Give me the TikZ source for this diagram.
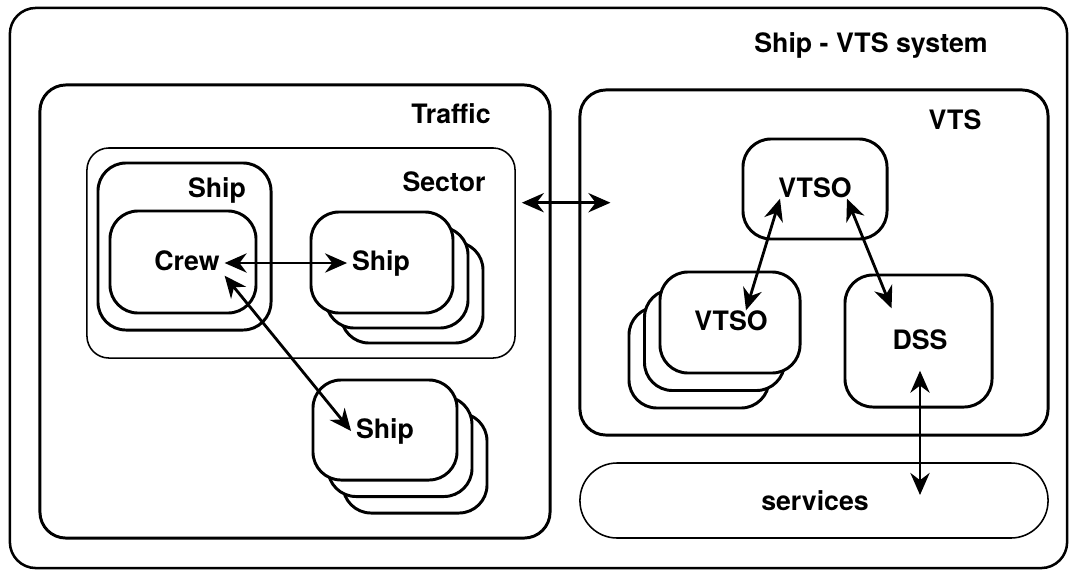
\documentclass[tikz,border=0pt]{standalone}
\usepackage{fontspec}
\setmainfont{TeX Gyre Heros}
\usetikzlibrary{arrows.meta}
\begin{document}
\begin{tikzpicture}[x=0.025cm, y=-0.025cm,
        every node/.style={font=\fontsize{19}{23}\selectfont\bfseries, text height=1.05em, text depth=0.05em},
        frame/.style={draw, line width=2.1pt, rounded corners=0.65cm, fill=white, inner sep=0pt, text height=, text depth=},
        thinframe/.style={draw, line width=1.1pt, rounded corners=0.55cm, inner sep=0pt, text height=, text depth=},
        unit/.style={draw, line width=2.1pt, rounded corners=0.7cm, fill=white, inner sep=0pt, text height=, text depth=},
        link/.style={{Stealth[length=0.55cm, width=0.48cm]}-{Stealth[length=0.55cm, width=0.48cm]}, line width=2pt}]
    \useasboundingbox (0,0) rectangle (1074,575);

    \node[frame, line width=1.8pt, minimum width=26.425cm, minimum height=14cm] (system) at (538.5,288) {};
    \node (systemlabel) at (871,45) {Ship - VTS system};

    % traffic side
    \node[frame, minimum width=12.75cm, minimum height=11.325cm] (traffic) at (295,311.5) {};
    \node (trafficlabel) at (451,116) {Traffic};
    \node[thinframe, minimum width=10.7cm, minimum height=5.25cm] (sector) at (301,253) {};
    \node (sectorlabel) at (444,184) {Sector};
    \node[unit, minimum width=4.325cm, minimum height=4.175cm] (shipbox) at (184.5,246.5) {};
    \node (shiplabel) at (217,190) {Ship};
    \node[unit, minimum width=3.65cm, minimum height=2.55cm] (crewbox) at (183,262) {};
    \node (crew) at (187,263) {Crew};

    \foreach \k in {2,1}
        \node[unit, minimum width=3.55cm, minimum height=2.525cm] (shipAbox\k) at (382+15*\k,262.5+15*\k) {};
    \node[unit, minimum width=3.55cm, minimum height=2.525cm] (shipAbox) at (382,262.5) {};
    \node (shipA) at (381,263) {Ship};

    \foreach \k in {2,1}
        \node[unit, minimum width=3.6cm, minimum height=2.5cm] (shipBbox\k) at (385+15*\k,430+16.5*\k) {};
    \node[unit, minimum width=3.6cm, minimum height=2.5cm] (shipBbox) at (385,430) {};
    \node (shipB) at (385,431) {Ship};

    % vts side
    \node[frame, minimum width=11.7cm, minimum height=8.625cm] (vts) at (814,262.5) {};
    \node (vtslabel) at (955,122) {VTS};
    \node[unit, minimum width=3.6cm, minimum height=2.5cm] (vtsoAbox) at (815,189) {};
    \node (vtsoA) at (815,190) {VTSO};

    \foreach \k in {2,1}
        \node[unit, minimum width=3.5cm, minimum height=2.525cm] (vtsoBbox\k) at (730-15.5*\k,322.5+17.5*\k) {};
    \node[unit, minimum width=3.5cm, minimum height=2.525cm] (vtsoBbox) at (730,322.5) {};
    \node (vtsoB) at (731,323) {VTSO};

    \node[unit, minimum width=3.675cm, minimum height=3.3cm] (dssbox) at (918.5,341) {};
    \node (dss) at (920,342) {DSS};

    \node[thinframe, rounded corners=0.93cm, minimum width=11.7cm, minimum height=1.875cm] (servicesbox) at (814,500.5) {};
    \node (services) at (815,503) {services};

    \draw[link] (crew) -- (shipA);
    \draw[link] (crew.south east) -- (shipB.west);
    \draw[link] ([xshift=0.15cm]sector.east |- vtsoA.south) -- ([xshift=0.8cm]vts.west |- vtsoA.south);
    \draw[link] ([xshift=-0.875cm, yshift=0.1cm]vtsoA.south) -- ([xshift=0.375cm]vtsoB.north);
    \draw[link] ([xshift=0.8cm, yshift=0.1cm]vtsoA.south) -- ([xshift=0.1cm, yshift=0.525cm]dss.north west);
    \draw[link, shorten <=0.4cm, shorten >=0.2cm] (dss) -- (dss |- services);
\end{tikzpicture}
\end{document}
